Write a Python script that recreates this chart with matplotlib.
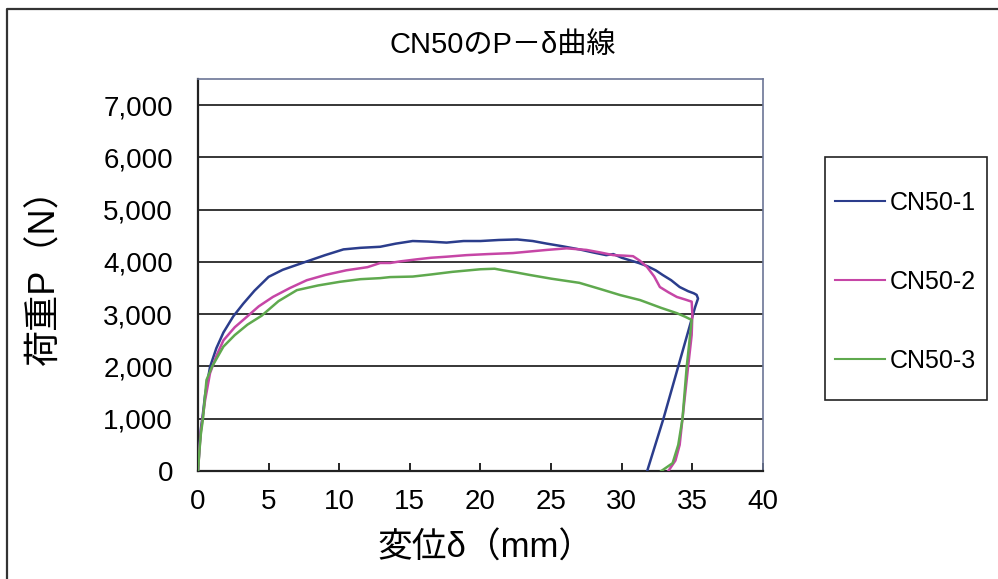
import matplotlib
matplotlib.use('Agg')
import matplotlib.pyplot as plt
from matplotlib.lines import Line2D
from matplotlib.patches import Rectangle

# CN50 P-delta curves
x_cn1 = [0, 0.1, 0.2, 0.35, 0.5, 0.85, 1.3, 1.8, 2.5, 3.2, 4.0, 5.0, 6.0, 7.6, 9.0,
         10.3, 11.5, 12.9, 14.0, 15.2, 16.3, 17.6, 18.8, 20.0, 21.3, 22.6, 23.7, 24.7,
         25.8, 27.0, 28.0, 28.9, 29.4, 30.0, 30.6, 31.2, 31.8, 32.4, 32.9, 33.5, 34.1,
         34.7, 35.1, 35.3, 35.4, 35.2, 35.05, 34.0, 32.95, 31.8]
y_cn1 = [0, 450, 800, 1100, 1450, 1990, 2350, 2650, 2960, 3200, 3450, 3715, 3850, 4000, 4130,
         4240, 4270, 4290, 4350, 4400, 4390, 4370, 4400, 4400, 4420, 4430, 4400, 4350,
         4300, 4240, 4180, 4130, 4150, 4080, 4030, 3980, 3920, 3840, 3750, 3650, 3520,
         3440, 3400, 3370, 3300, 3140, 3000, 2000, 1000, 0]

x_cn2 = [0, 0.1, 0.2, 0.35, 0.5, 0.85, 1.3, 1.8, 2.6, 3.5, 4.3, 5.3, 6.5, 7.7, 9.0,
         10.5, 12.0, 12.9, 13.6, 14.3, 15.5, 16.5, 17.6, 19.0, 20.5, 22.3, 23.5, 24.7,
         26.1, 27.5, 28.5, 29.4, 30.2, 30.8, 31.3, 31.8, 32.3, 32.7, 33.3, 33.9, 34.5,
         34.95, 35.0, 34.95, 34.7, 34.5, 34.3, 34.1, 33.8, 33.3]
y_cn2 = [0, 400, 750, 1050, 1350, 1870, 2200, 2500, 2750, 2960, 3150, 3330, 3500, 3650, 3750,
         3840, 3900, 3980, 3980, 4010, 4050, 4080, 4100, 4130, 4150, 4170, 4200, 4230,
         4260, 4230, 4180, 4130, 4120, 4110, 4020, 3900, 3720, 3520, 3420, 3330, 3280,
         3240, 3000, 2600, 2000, 1500, 1000, 500, 200, 0]

x_cn3 = [0, 0.1, 0.2, 0.35, 0.6, 1.0, 1.8, 2.6, 3.5, 4.5, 5.7, 7.0, 8.5, 10.05, 11.5,
         12.9, 13.6, 15.2, 16.5, 18.0, 20.0, 21.0, 21.6, 22.5, 23.5, 25.0, 27.0, 28.5,
         29.9, 31.3, 31.8, 32.8, 33.9, 34.5, 34.95, 34.8, 34.6, 34.3, 34.0, 33.6, 32.8]
y_cn3 = [0, 380, 700, 1000, 1740, 2000, 2380, 2600, 2800, 2970, 3250, 3460, 3550, 3620, 3670,
         3690, 3710, 3720, 3760, 3810, 3860, 3870, 3840, 3800, 3750, 3680, 3600, 3480,
         3365, 3270, 3220, 3120, 3020, 2950, 2890, 2500, 2000, 1000, 500, 150, 0]

series_names = ['CN50-1', 'CN50-2', 'CN50-3']
series_colors = ['#2b3d8c', '#c646a6', '#5fa94e']

x_ticks = [0, 5, 10, 15, 20, 25, 30, 35, 40]
y_ticks = [0, 1000, 2000, 3000, 4000, 5000, 6000, 7000]
y_tick_labels = ['0', '1,000', '2,000', '3,000', '4,000', '5,000', '6,000', '7,000']

# latin glyphs from Liberation, the rest falls back to the CJK family
mixed = ['Liberation Sans', 'Noto Sans CJK JP', 'DejaVu Sans']

W, H = 998, 579
fig = plt.figure(figsize=(W / 100, H / 100), dpi=100)
ax = fig.add_axes([198 / W, 1 - 471 / H, (763 - 198) / W, (471 - 79) / H])

for xs, ys, name, c in zip([x_cn1, x_cn2, x_cn3], [y_cn1, y_cn2, y_cn3],
                           series_names, series_colors):
    ax.plot(xs, ys, color=c, lw=1.8, label=name, zorder=3)

ax.set_xlim(0, 40)
ax.set_ylim(0, 7500)
ax.set_xticks(x_ticks)
ax.set_yticks(y_ticks)
ax.set_yticklabels(y_tick_labels)
ax.grid(axis='y', color='black', lw=1.1)
ax.set_axisbelow(True)

ax.tick_params(axis='x', direction='in', length=6, width=1.2, pad=13, labelsize=20)
ax.tick_params(axis='y', direction='in', length=0, pad=18, labelsize=20)
for lab in ax.get_xticklabels() + ax.get_yticklabels():
    lab.set_family(mixed)

for side in ['left', 'bottom']:
    ax.spines[side].set_color('#222222')
    ax.spines[side].set_linewidth(1.6)
for side in ['top', 'right']:
    ax.spines[side].set_color('#6c7696')
    ax.spines[side].set_linewidth(1.2)

fig.text(503 / W, 1 - 45 / H, 'CN50のP－δ曲線', ha='center', va='center',
         fontsize=21, family=mixed)
ax.set_ylabel('荷重P（N）', fontsize=26, family=mixed)
ax.yaxis.set_label_coords(45 / W, 1 - 268 / H, transform=fig.transFigure)
ax.yaxis.label.set_va('center')
ax.set_xlabel('変位δ（mm）', fontsize=25, family=mixed)
ax.xaxis.set_label_coords(486 / W, 1 - 548 / H, transform=fig.transFigure)
ax.xaxis.label.set_va('center')

# legend, box drawn separately so the paddings can differ
leg = ax.legend(loc='center left', bbox_to_anchor=(835 / W, 1 - 282 / H),
                bbox_transform=fig.transFigure, frameon=False, borderpad=0,
                borderaxespad=0, handlelength=2.0, handletextpad=0.2,
                labelspacing=2.2, prop={'family': mixed, 'size': 18})
for h in leg.get_lines():
    h.set_linewidth(1.5)
fig.patches.append(Rectangle((825 / W, 1 - 400 / H), 162 / W, 243 / H,
                             transform=fig.transFigure, fill=False,
                             edgecolor='#222222', lw=1.2))

# outer chart frame
fig.lines.append(Line2D([7 / W, 7 / W, 1], [0, 1 - 9 / H, 1 - 9 / H],
                        transform=fig.transFigure, color='#333333', lw=1.6))

fig.savefig('out.png', dpi=100)
